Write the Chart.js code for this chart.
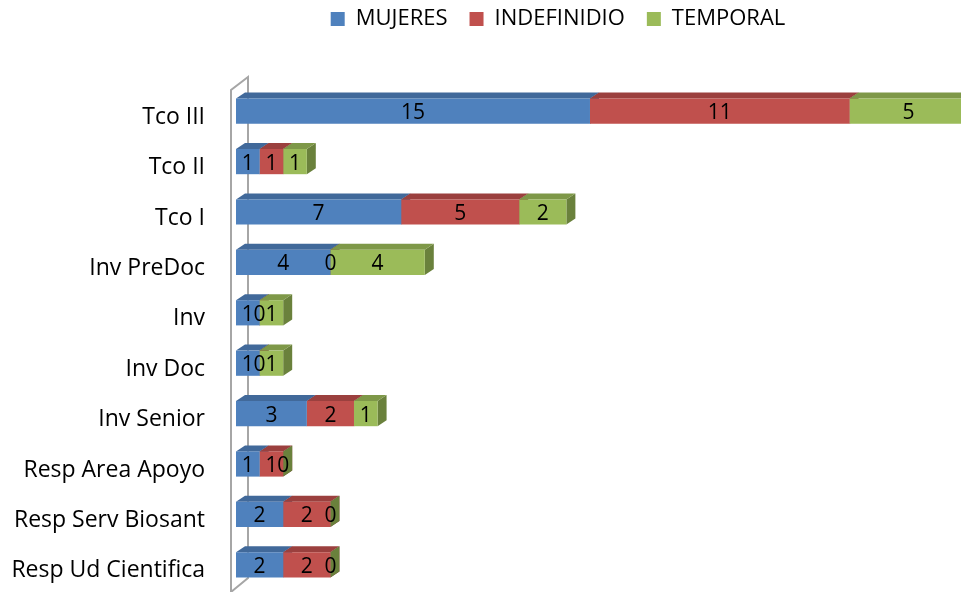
<!DOCTYPE html>
<html><head><meta charset="utf-8">
<script src="https://cdn.jsdelivr.net/npm/chart.js@4"></script>
<style>html,body{margin:0;padding:0;background:#fff}canvas{display:block}</style>
</head><body>
<canvas id="c" width="961" height="592"></canvas>
<script>
const categories = ["Tco III","Tco II","Tco I","Inv PreDoc","Inv","Inv Doc","Inv Senior","Resp Area Apoyo","Resp Serv Biosant","Resp Ud Cientifica"];
const mujeres     = [15,1,7,4,1,1,3,1,2,2];
const indefinidio = [11,1,5,0,0,0,2,1,2,2];
const temporal    = [5,1,2,4,1,1,1,0,0,0];
const seriesNames = ["MUJERES","INDEFINIDIO","TEMPORAL"];

const FONT = "'Open Sans', 'Liberation Sans', sans-serif";
const front = ["#4F81BD","#C0504D","#9BBB59"];
const topC  = ["#41699A","#9B403E","#7E9848"];
const sideC = ["#36587F","#803533","#6A813C"];
const DX = 9, DY = -6;

const threeD = {
  id: 'threeD',
  beforeDatasetsDraw(chart) {
    const ctx = chart.ctx, a = chart.chartArea;
    ctx.save();
    ctx.strokeStyle = '#A6A6A6'; ctx.lineWidth = 2;
    const L = a.left - 5, B = a.left + 12;
    ctx.beginPath();
    ctx.moveTo(L, 592); ctx.lineTo(L, a.top + 4); ctx.lineTo(B, a.top - 9); ctx.lineTo(B, a.bottom - 12); ctx.lineTo(L, a.bottom + 2);
    ctx.stroke();
    const n = chart.data.labels.length;
    for (let j = 0; j < n; j++) {
      chart.data.datasets.forEach((ds, i) => {
        const el = chart.getDatasetMeta(i).data[j];
        const x1 = Math.min(el.base, el.x), x2 = Math.max(el.base, el.x);
        const yT = el.y - el.height / 2, yB = el.y + el.height / 2;
        ctx.fillStyle = sideC[i];
        ctx.beginPath();
        ctx.moveTo(x2, yT); ctx.lineTo(x2 + DX, yT + DY); ctx.lineTo(x2 + DX, yB + DY); ctx.lineTo(x2, yB); ctx.closePath(); ctx.fill();
        ctx.fillStyle = topC[i];
        ctx.beginPath();
        ctx.moveTo(x1, yT); ctx.lineTo(x1 + DX, yT + DY); ctx.lineTo(x2 + DX, yT + DY); ctx.lineTo(x2, yT); ctx.closePath(); ctx.fill();
      });
    }
    ctx.restore();
  },
  afterDatasetsDraw(chart) {
    const ctx = chart.ctx, xs = chart.scales.x;
    ctx.save();
    ctx.font = "21px " + FONT; ctx.fillStyle = '#000';
    ctx.textAlign = 'center'; ctx.textBaseline = 'middle';
    const n = chart.data.labels.length;
    for (let j = 0; j < n; j++) {
      let start = 0;
      chart.data.datasets.forEach((ds, i) => {
        const v = ds.data[j];
        const el = chart.getDatasetMeta(i).data[j];
        const cx = xs.getPixelForValue(start + v / 2);
        ctx.fillText(String(v), cx, el.y + 2);
        start += v;
      });
    }
    ctx.restore();
  }
};

new Chart(document.getElementById('c'), {
  type: 'bar',
  data: {
    labels: categories,
    datasets: [
      { label: seriesNames[0], data: mujeres, backgroundColor: front[0] },
      { label: seriesNames[1], data: indefinidio, backgroundColor: front[1] },
      { label: seriesNames[2], data: temporal, backgroundColor: front[2] }
    ]
  },
  options: {
    indexAxis: 'y',
    responsive: false,
    animation: false,
    devicePixelRatio: 1,
    layout: { padding: { top: -14, left: 0, right: 81, bottom: 2 } },
    datasets: { bar: { barPercentage: 0.5, categoryPercentage: 1, clip: false } },
    plugins: {
      legend: {
        position: 'top', fullSize: false,
        labels: { boxWidth: 14, boxHeight: 14, padding: 22, color: '#000', font: { size: 22, family: FONT } }
      },
      tooltip: { enabled: false }
    },
    scales: {
      x: {
        stacked: true, position: 'top', min: 0, max: 27.29,
        grid: { display: false, drawTicks: false }, border: { display: false },
        ticks: { display: false },
        afterFit(s) { s.height = 46; }
      },
      y: {
        stacked: true,
        grid: { display: false, drawTicks: false }, border: { display: false },
        ticks: { color: '#000', padding: 31, labelOffset: 6, font: { size: 23, family: FONT } },
        afterFit(s) { s.width = 236; s.paddingTop = 0; s.paddingBottom = 0; }
      }
    }
  },
  plugins: [threeD]
});
</script>
</body></html>
